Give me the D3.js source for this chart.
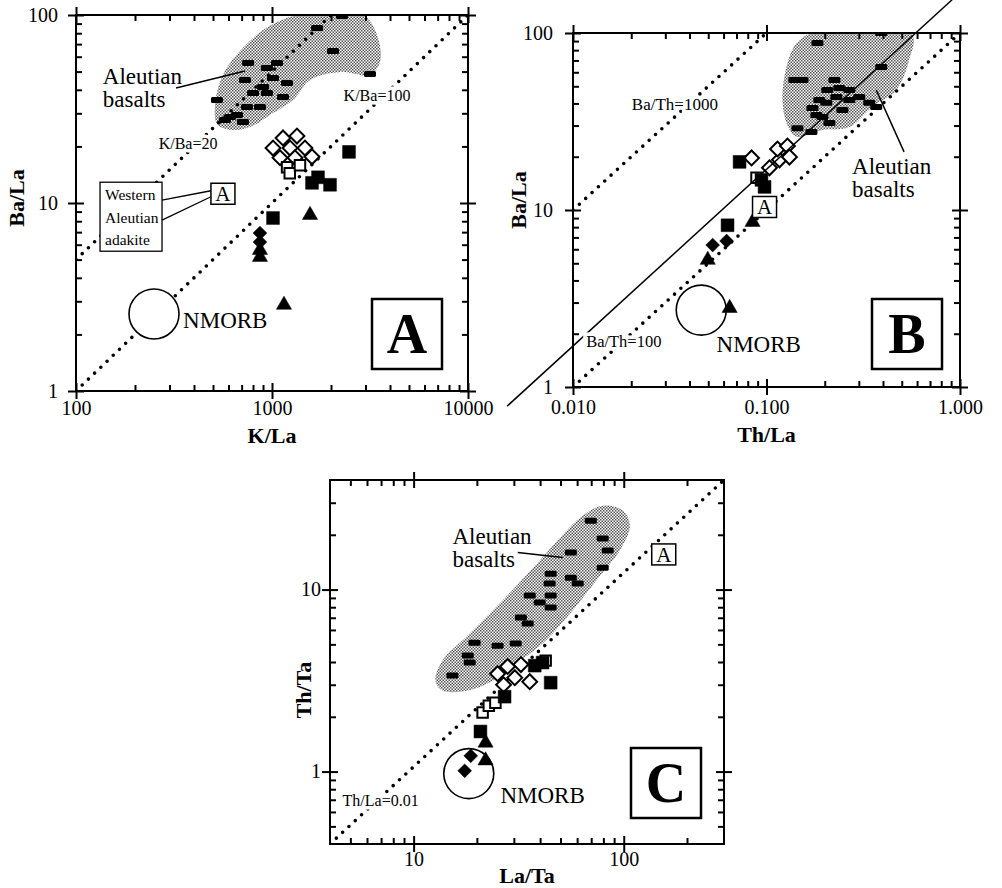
<!DOCTYPE html>
<html>
<head>
<meta charset="utf-8">
<script src="https://cdn.jsdelivr.net/npm/d3@7"></script>
<style>
body { margin: 0; background: #fff; }
svg { display: block; font-family: 'Liberation Serif', 'Times New Roman', serif; }
.tick text { font-family: 'Liberation Serif', serif; font-size: 20px; fill: #000; }
.tick line { stroke: #000; stroke-width: 2; }
.title { font-family: 'Liberation Serif', serif; font-weight: bold; font-size: 22px; }
</style>
</head>
<body>
<script>
// ---------- panel A : Ba/La vs K/La ----------
var aXTicks = [100, 1000, 10000]
var aXTickLabels = ['100', '1000', '10000']
var aYTicks = [1, 10, 100]
var aYTickLabels = ['1', '10', '100']
var aRegion = [[611, 55.6], [900, 83.2], [1341, 100], [2223, 104], [2980, 98.8], [3475, 75.5], [3556, 56.2],
  [3162, 48], [2223, 49.8], [1563, 45.1], [1280, 35.3], [1012, 30.1], [772, 25.4], [611, 24.5], [524, 26.3],
  [512, 33.2], [543, 44]]
var aBasalts = [[2275, 98.8], [1698, 85.3], [2048, 64.4], [3162, 48.5], [755, 55.6], [728, 45.1], [942, 52.2],
  [1061, 55.6], [1012, 46.2], [1193, 43.5], [900, 41.4], [1138, 36.6], [942, 38.5], [800, 38.5], [868, 32.4],
  [745, 32.4], [663, 29.4], [711, 27.0], [611, 28.7], [524, 35.3], [575, 27.6]]
var aOpenDiamonds = [[1012, 19.6], [1138, 22.2], [1341, 22.7], [1236, 19.6], [1473, 19.6], [1099, 17.4], [1310, 17.4], [1600, 17.6]]
var aOpenSquares = [[1194, 15.5], [1232, 14.4], [1389, 15.9]]
var aFilledSquares = [[1012, 8.32], [2471, 18.7], [1717, 13.7], [1600, 12.8], [1977, 12.5]]
var aFilledDiamonds = [[868, 6.92], [868, 6.2]]
var aTriangles = [[868, 5.62], [868, 5.16], [1563, 8.63], [1151, 2.87]]
var aNmorb = [250, 2.57]
var aAdakite = [562, 11.2]
var aKBa20 = [[100, 5], [2000, 100]]
var aKBa100 = [[100, 1], [10000, 100]]

// ---------- panel B : Ba/La vs Th/La ----------
var bXTicks = [0.01, 0.1, 1]
var bXTickLabels = ['0.010', '0.100', '1.000']
var bYTicks = [1, 10, 100]
var bYTickLabels = ['1', '10', '100']
var bRegion = [[0.1209, 41.8], [0.1268, 64.3], [0.1429, 87.8], [0.1727, 100], [0.2678, 104], [0.566, 97.4],
  [0.546, 70.4], [0.4677, 47.6], [0.3516, 38.2], [0.2678, 29.4], [0.1945, 28.3], [0.1429, 25.9], [0.1282, 30.2]]
var bBasalts = [[0.1833, 87.8], [0.3917, 100], [0.1393, 54.2], [0.1535, 54.2], [0.3917, 64.3], [0.2243, 54.2],
  [0.2377, 48.9], [0.2061, 47.6], [0.1875, 41.8], [0.1727, 37.7], [0.2037, 40.3], [0.2296, 43.5], [0.2679, 47.6],
  [0.3013, 43.5], [0.3396, 40.3], [0.369, 38.2], [0.2679, 41.8], [0.1944, 33.5], [0.2113, 31.0], [0.1706, 27.6],
  [0.1445, 29.0], [0.1811, 34.4], [0.2466, 36.7]]
var bOpenDiamonds = [[0.0837, 19.7], [0.1036, 17.3], [0.1167, 19.2], [0.114, 22.1], [0.1283, 23.0], [0.1314, 19.9]]
var bOpenSquares = [[0.0888, 15.2]]
var bFilledSquares = [[0.0726, 18.7], [0.0942, 14.8], [0.0977, 13.5], [0.0629, 8.2]]
var bFilledDiamonds = [[0.0527, 6.34], [0.0622, 6.68]]
var bTriangles = [[0.0497, 5.22], [0.0847, 8.55], [0.0645, 2.79]]
var bNmorb = [0.046, 2.72]
var bAdakite = [0.0977, 10.4]
var bBaTh1000 = [[0.01, 10], [0.1, 100]]
var bBaTh100 = [[0.01, 1], [1, 100]]
var bMixLine = [[0.00457, 0.78], [0.91, 154]]

// ---------- panel C : Th/Ta vs La/Ta ----------
var cXTicks = [10, 100]
var cXTickLabels = ['10', '100']
var cYTicks = [1, 10]
var cYTickLabels = ['1', '10']
var cRegion = [[12.7, 3.16], [13.7, 4.07], [18.1, 5.59], [25.1, 8.17], [34.9, 12.2], [48.5, 18.6], [63.8, 25.5],
  [79.4, 28.9], [98.9, 27.2], [107, 22.5], [95.7, 16.4], [75.2, 11.5], [57.1, 7.67], [42.5, 5.24], [31.3, 3.97],
  [23.8, 3.16], [18.1, 2.79], [13.7, 2.79]]
var cBasalts = [[69.7, 23.9], [79.4, 19.1], [83.9, 16.4], [56.0, 16.0], [79.4, 13.2], [44.9, 12.2], [44.4, 10.8],
  [56.0, 11.6], [60.4, 10.8], [44.9, 9.27], [35.7, 9.27], [39.8, 8.48], [44.9, 7.96], [32.4, 7.02], [34.9, 6.5],
  [30.6, 5.05], [25.1, 4.92], [19.5, 5.11], [18.1, 4.34], [18.5, 3.97], [15.3, 3.37]]
var cOpenDiamonds = [[25.1, 3.45], [28.0, 3.78], [30.3, 3.28], [32.4, 3.87], [35.7, 3.12], [26.8, 3.0]]
var cOpenSquares = [[21.3, 2.11], [22.8, 2.3], [24.5, 2.39], [42.5, 4.07]]
var cFilledSquares = [[20.8, 1.66], [27.1, 2.58], [41.1, 3.97], [44.9, 3.08], [37.7, 3.82]]
var cFilledDiamonds = [[18.7, 1.22], [17.5, 1.01]]
var cTriangles = [[22.0, 1.44], [22.0, 1.15]]
var cNmorb = [18.3, 0.975]
var cAdakite = [155, 15.6]
var cThLa = [[4, 0.4], [300, 40]]

function d3Translate(x, y) {
  return 'translate(' + x + ',' + y + ')'
}

var svg = d3.select('body').append('svg')
  .attr('width', 1002)
  .attr('height', 888)

var defs = svg.append('defs')
var pat = defs.append('pattern')
  .attr('id', 'stipple')
  .attr('width', 3).attr('height', 3)
  .attr('patternUnits', 'userSpaceOnUse')
pat.append('rect').attr('width', 3).attr('height', 3).attr('fill', '#fff')
pat.append('rect').attr('width', 1.5).attr('height', 1.5).attr('fill', '#555')
pat.append('rect').attr('x', 1.5).attr('y', 1.5).attr('width', 1.5).attr('height', 1.5).attr('fill', '#555')

function logTicks(domain) {
  var lo = Math.floor(Math.log10(domain[0])), hi = Math.ceil(Math.log10(domain[1]))
  var minor = []
  for (var k = lo; k <= hi; k++) {
    for (var m = 2; m < 10; m++) {
      var v = m * Math.pow(10, k)
      if (v > domain[0] * 1.001 && v < domain[1] * 0.999) minor.push(v)
    }
  }
  return minor
}

function makePanel(cfg) {
  var g = svg.append('g').attr('transform', d3Translate(cfg.left, cfg.top))
  var x = d3.scaleLog().domain(cfg.xDomain).range([0, cfg.width])
  var y = d3.scaleLog().domain(cfg.yDomain).range([cfg.height, 0])
  defs.append('clipPath').attr('id', 'clip-' + cfg.name)
    .append('rect').attr('width', cfg.width).attr('height', cfg.height)
  var plot = g.append('g').attr('clip-path', 'url(#clip-' + cfg.name + ')')
  return {g: g, plot: plot, x: x, y: y, cfg: cfg}
}

function drawRegion(p, pts) {
  var line = d3.line()
    .x(function(d) { return p.x(d[0]) })
    .y(function(d) { return p.y(d[1]) })
    .curve(d3.curveCatmullRomClosed.alpha(0.5))
  p.plot.append('path').attr('d', line(pts)).attr('fill', 'url(#stipple)')
}

function drawRefLine(p, pts, dotted, layer) {
  var line = d3.line()
    .x(function(d) { return p.x(d[0]) })
    .y(function(d) { return p.y(d[1]) })
  var path = (layer || p.plot).append('path')
    .attr('d', line(pts))
    .attr('fill', 'none')
    .attr('stroke', '#000')
  if (dotted) {
    path.attr('stroke-width', 3.6).attr('stroke-dasharray', '0 8.6').attr('stroke-linecap', 'round')
  } else {
    path.attr('stroke-width', 1.5)
  }
}

function drawDashes(p, pts) {
  p.plot.selectAll(null).data(pts).enter().append('rect')
    .attr('x', function(d) { return p.x(d[0]) - 6 })
    .attr('y', function(d) { return p.y(d[1]) - 3 })
    .attr('width', 12).attr('height', 6).attr('rx', 1.5)
    .attr('fill', '#000')
}

var symbolGen = {
  filledSquare: d3.symbol().type(d3.symbolSquare).size(165),
  openSquare: d3.symbol().type(d3.symbolSquare).size(110),
  filledDiamond: d3.symbol().type(d3.symbolSquare).size(95),
  openDiamond: d3.symbol().type(d3.symbolSquare).size(110),
  triangle: d3.symbol().type(d3.symbolTriangle).size(100)
}

function drawSymbols(p, pts, kind) {
  var open = kind.indexOf('open') === 0
  var rot = kind.indexOf('Diamond') >= 0 ? ' rotate(45)' : ''
  p.plot.selectAll(null).data(pts).enter().append('path')
    .attr('d', symbolGen[kind])
    .attr('transform', function(d) { return d3Translate(p.x(d[0]), p.y(d[1])) + rot })
    .attr('fill', open ? '#fff' : '#000')
    .attr('stroke', '#000')
    .attr('stroke-width', open ? 2 : 0.5)
}

function drawCircle(p, pt) {
  p.plot.append('circle')
    .attr('cx', p.x(pt[0])).attr('cy', p.y(pt[1])).attr('r', 25)
    .attr('fill', '#fff').attr('stroke', '#000').attr('stroke-width', 1.6)
}

function drawSampleBox(p, pt) {
  var cx = p.x(pt[0]), cy = p.y(pt[1])
  p.g.append('rect')
    .attr('x', cx - 12).attr('y', cy - 10.5).attr('width', 24).attr('height', 21)
    .attr('fill', '#fff').attr('stroke', '#000').attr('stroke-width', 1.5)
  p.g.append('text')
    .attr('x', cx).attr('y', cy + 7.5).attr('text-anchor', 'middle')
    .attr('font-size', 21).text('A')
}

function label(p, pt, lines, size, halo, anchor) {
  var t = p.g.append('text')
    .attr('x', p.x(pt[0])).attr('y', p.y(pt[1]))
    .attr('font-size', size)
    .attr('text-anchor', anchor || 'start')
  if (halo) t.attr('stroke', '#fff').attr('stroke-width', 7).attr('paint-order', 'stroke')
  lines.forEach(function(s, i) {
    t.append('tspan').attr('x', p.x(pt[0])).attr('dy', i ? size * 1.0 : 0).text(s)
  })
}

function leader(p, a, b) {
  p.g.append('line')
    .attr('x1', p.x(a[0])).attr('y1', p.y(a[1]))
    .attr('x2', p.x(b[0])).attr('y2', p.y(b[1]))
    .attr('stroke', '#000').attr('stroke-width', 1.5)
}

function drawAxes(p, xTicks, xLabels, yTicks, yLabels) {
  var cfg = p.cfg, w = cfg.width, h = cfg.height
  var ax = p.g.append('g')
  function strip(sel) { sel.select('.domain').remove() }
  var xm = logTicks(p.x.domain()), ym = logTicks(p.y.domain())
  // minor ticks, pointing in on all four sides
  ax.append('g').attr('transform', d3Translate(0, h))
    .call(d3.axisBottom(p.x).tickValues(xm).tickSize(-6).tickFormat('')).call(strip)
  ax.append('g')
    .call(d3.axisTop(p.x).tickValues(xm).tickSize(-6).tickFormat('')).call(strip)
  ax.append('g')
    .call(d3.axisLeft(p.y).tickValues(ym).tickSize(-6).tickFormat('')).call(strip)
  ax.append('g').attr('transform', d3Translate(w, 0))
    .call(d3.axisRight(p.y).tickValues(ym).tickSize(-6).tickFormat('')).call(strip)
  // major ticks cross the frame
  ;[8, -8].forEach(function(s) {
    var lab = s > 0
    ax.append('g').attr('transform', d3Translate(0, h))
      .call(d3.axisBottom(p.x).tickValues(xTicks).tickSize(s).tickPadding(cfg.xPad)
        .tickFormat(function(d, i) { return lab ? xLabels[i] : '' })).call(strip)
    ax.append('g')
      .call(d3.axisTop(p.x).tickValues(xTicks).tickSize(s).tickFormat('')).call(strip)
    ax.append('g')
      .call(d3.axisLeft(p.y).tickValues(yTicks).tickSize(s).tickPadding(cfg.yPad)
        .tickFormat(function(d, i) { return lab ? yLabels[i] : '' })).call(strip)
    ax.append('g').attr('transform', d3Translate(w, 0))
      .call(d3.axisRight(p.y).tickValues(yTicks).tickSize(s).tickFormat('')).call(strip)
  })
  ax.append('rect')
    .attr('width', w).attr('height', h)
    .attr('fill', 'none').attr('stroke', '#000').attr('stroke-width', 2)

  p.g.append('text').attr('class', 'title')
    .attr('x', w / 2).attr('y', h + cfg.xTitleDy)
    .attr('text-anchor', 'middle')
    .text(cfg.xTitle)
  p.g.append('text').attr('class', 'title')
    .attr('transform', d3Translate(cfg.yTitleDx, cfg.yTitleY) + ' rotate(-90)')
    .attr('text-anchor', 'middle').attr('dy', '0.35em')
    .text(cfg.yTitle)

  // panel badge
  var cx = w + cfg.badge[0], cy = h + cfg.badge[1]
  p.g.append('rect')
    .attr('x', cx - 35).attr('y', cy - 35).attr('width', 70).attr('height', 70)
    .attr('fill', '#fff').attr('stroke', '#000').attr('stroke-width', 2.5)
  p.g.append('text')
    .attr('x', cx).attr('y', cy + 19).attr('text-anchor', 'middle')
    .attr('font-size', 56).attr('font-weight', 'bold')
    .text(cfg.name)
}

// ===== Panel A =====
var pA = makePanel({
  name: 'A', left: 76, top: 15, width: 392, height: 376,
  xDomain: [100, 10000], yDomain: [1, 100],
  xPad: 2, yPad: 10, xTitle: 'K/La', yTitle: 'Ba/La',
  xTitleDy: 52, yTitleDx: -60, yTitleY: 183, badge: [-61, -57]
})
drawRegion(pA, aRegion)
drawRefLine(pA, aKBa20, true)
drawRefLine(pA, aKBa100, true)
drawDashes(pA, aBasalts)
drawCircle(pA, aNmorb)
drawSymbols(pA, aOpenDiamonds, 'openDiamond')
drawSymbols(pA, aOpenSquares, 'openSquare')
drawSymbols(pA, aFilledSquares, 'filledSquare')
drawSymbols(pA, aFilledDiamonds, 'filledDiamond')
drawSymbols(pA, aTriangles, 'triangle')
label(pA, [137, 43], ['Aleutian', 'basalts'], 23)
leader(pA, [324, 40.9], [728, 50.4])
label(pA, [373, 19.4], ['K/Ba=20'], 16, true, 'middle')
label(pA, [3434, 34.9], ['K/Ba=100'], 16, true, 'middle')
label(pA, [352, 2.16], ['NMORB'], 23)
drawSampleBox(pA, aAdakite)
// Western Aleutian adakite callout
;(function() {
  var bx = pA.x(132.6), by = pA.y(12.9)
  var sx = pA.x(aAdakite[0]) - 12, sy = pA.y(aAdakite[1])
  pA.g.append('rect').attr('x', bx).attr('y', by).attr('width', 62).attr('height', 69)
    .attr('fill', '#fff').attr('stroke', '#000').attr('stroke-width', 1.3)
  var t = pA.g.append('text').attr('font-size', 15.5)
  ;['Western', 'Aleutian', 'adakite'].forEach(function(s, i) {
    t.append('tspan').attr('x', bx + 5).attr('y', by + 18 + i * 22.5).text(s)
  })
  pA.g.append('line').attr('x1', bx + 62).attr('y1', by + 18).attr('x2', sx).attr('y2', sy - 3)
    .attr('stroke', '#000').attr('stroke-width', 1.3)
  pA.g.append('line').attr('x1', bx + 62).attr('y1', by + 38).attr('x2', sx).attr('y2', sy + 3)
    .attr('stroke', '#000').attr('stroke-width', 1.3)
})()
drawAxes(pA, aXTicks, aXTickLabels, aYTicks, aYTickLabels)

// ===== Panel B =====
var pB = makePanel({
  name: 'B', left: 573, top: 33, width: 387, height: 354,
  xDomain: [0.01, 1], yDomain: [1, 100],
  xPad: 5, yPad: 12, xTitle: 'Th/La', yTitle: 'Ba/La',
  xTitleDy: 55, yTitleDx: -55, yTitleY: 167, badge: [-53, -53]
})
drawRegion(pB, bRegion)
drawRefLine(pB, bBaTh1000, true)
drawRefLine(pB, bBaTh100, true)
drawDashes(pB, bBasalts)
drawCircle(pB, bNmorb)
drawSymbols(pB, bOpenDiamonds, 'openDiamond')
drawSymbols(pB, bOpenSquares, 'openSquare')
drawSymbols(pB, bFilledSquares, 'filledSquare')
drawSymbols(pB, bFilledDiamonds, 'filledDiamond')
drawSymbols(pB, bTriangles, 'triangle')
drawRefLine(pB, bMixLine, false, pB.g)
label(pB, [0.0336, 36.7], ['Ba/Th=1000'], 17, true, 'middle')
label(pB, [0.0183, 1.68], ['Ba/Th=100'], 16.5, true, 'middle')
label(pB, [0.0552, 1.58], ['NMORB'], 23)
label(pB, [0.277, 16.0], ['Aleutian', 'basalts'], 23)
leader(pB, [0.514, 21.3], [0.369, 47.6])
drawSampleBox(pB, bAdakite)
drawAxes(pB, bXTicks, bXTickLabels, bYTicks, bYTickLabels)

// ===== Panel C =====
var pC = makePanel({
  name: 'C', left: 330, top: 480, width: 394, height: 364,
  xDomain: [4, 300], yDomain: [0.4, 40],
  xPad: 0, yPad: 1, xTitle: 'La/Ta', yTitle: 'Th/Ta',
  xTitleDy: 39, yTitleDx: -27, yTitleY: 210, badge: [-58, -61]
})
drawRegion(pC, cRegion)
drawRefLine(pC, cThLa, true)
drawDashes(pC, cBasalts)
drawCircle(pC, cNmorb)
drawSymbols(pC, cOpenDiamonds, 'openDiamond')
drawSymbols(pC, cOpenSquares, 'openSquare')
drawSymbols(pC, cFilledSquares, 'filledSquare')
drawSymbols(pC, cFilledDiamonds, 'filledDiamond')
drawSymbols(pC, cTriangles, 'triangle')
label(pC, [15.3, 17.9], ['Aleutian', 'basalts'], 23)
leader(pC, [31.3, 16.0], [51.3, 15.0])
label(pC, [4.59, 0.65], ['Th/La=0.01'], 16, true)
label(pC, [25.9, 0.675], ['NMORB'], 23)
drawSampleBox(pC, cAdakite)
drawAxes(pC, cXTicks, cXTickLabels, cYTicks, cYTickLabels)
</script>
</body>
</html>
